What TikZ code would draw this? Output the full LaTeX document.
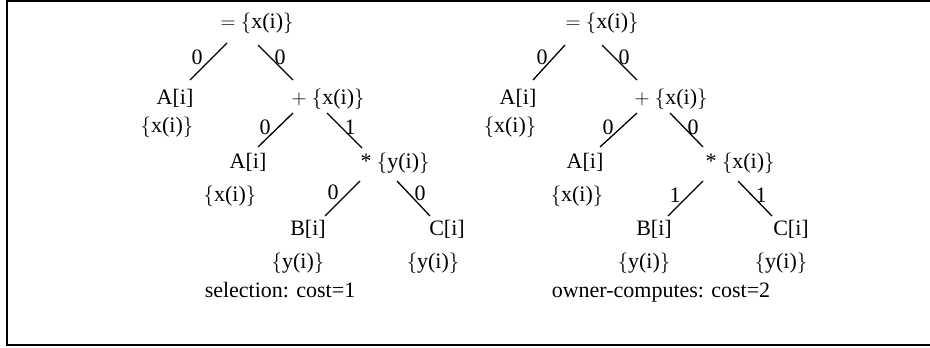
\documentclass[tikz,border=0pt]{standalone}
\usepackage{fontspec}
\setmainfont{Liberation Serif}
\begin{document}
\begin{tikzpicture}[x=1pt,y=-1pt,
  every node/.style={font=\fontsize{22}{26}\selectfont, inner sep=0pt},
  tx/.style={anchor=base},
  lab/.style={anchor=center},
  edge/.style={line width=1.3pt},
  frame/.style={line width=2pt}]
\useasboundingbox (0,0) rectangle (930,348);
\draw[frame] (931,1) -- (7,1) -- (7,345) -- (931,345);
% ---------- left tree ----------
\node[tx] (rL)  at (257,28)  {$=$ $\{$x(i)$\}$};
\node[tx] (aL1) at (175,104) {A[i]};
\node[tx] (pL)  at (328,104) {$+$ $\{$x(i)$\}$};
\node[tx] (xL1) at (167,132) {$\{$x(i)$\}$};
\node[tx] (aL2) at (248,168) {A[i]};
\node[tx] (sL)  at (395,168) {* $\{$y(i)$\}$};
\node[tx] (xL2) at (230,201) {$\{$x(i)$\}$};
\node[tx] (bL)  at (308,235) {B[i]};
\node[tx] (cL)  at (447,235) {C[i]};
\node[tx] (yL1) at (298,268) {$\{$y(i)$\}$};
\node[tx] (yL2) at (433,268) {$\{$y(i)$\}$};
\node[tx] (capL) at (280,297) {selection: cost=1};
\draw[edge] ([shift={(-30,15)}]rL.base) -- ([shift={(15,-24)}]aL1.base);
\draw[edge] ([shift={(1,17)}]rL.base) -- ([shift={(-35,-24)}]pL.base);
\draw[edge] ([shift={(-35,9)}]pL.base) -- ([shift={(10,-21)}]aL2.base);
\draw[edge] ([shift={(-1,9)}]pL.base) -- ([shift={(-33,-20)}]sL.base);
\draw[edge] ([shift={(-35,13)}]sL.base) -- ([shift={(17,-19)}]bL.base);
\draw[edge] ([shift={(2,13)}]sL.base) -- ([shift={(-17,-19)}]cL.base);
\node[lab] (l1) at (197,57) {0};
\node[lab] (l2) at (280,57) {0};
\node[lab] (l3) at (265,127) {0};
\node[lab] (l4) at (350,127) {1};
\node[lab] (l5) at (333,192) {0};
\node[lab] (l6) at (420,193) {0};
% ---------- right tree ----------
\node[tx] (rR)  at (602,28)  {$=$ $\{$x(i)$\}$};
\node[tx] (aR1) at (518,104) {A[i]};
\node[tx] (pR)  at (671,104) {$+$ $\{$x(i)$\}$};
\node[tx] (xR1) at (510,132) {$\{$x(i)$\}$};
\node[tx] (aR2) at (585,168) {A[i]};
\node[tx] (sR)  at (740,168) {* $\{$x(i)$\}$};
\node[tx] (xR2) at (577,201) {$\{$x(i)$\}$};
\node[tx] (bR)  at (654,235) {B[i]};
\node[tx] (cR)  at (791,235) {C[i]};
\node[tx] (yR1) at (644,268) {$\{$y(i)$\}$};
\node[tx] (yR2) at (781,268) {$\{$y(i)$\}$};
\node[tx] (capR) at (661,297) {owner-computes: cost=2};
\draw[edge] ([shift={(-37,17)}]rR.base) -- ([shift={(15,-24)}]aR1.base);
\draw[edge] ([shift={(0,17)}]rR.base) -- ([shift={(-34,-24)}]pR.base);
\draw[edge] ([shift={(-34,9)}]pR.base) -- ([shift={(15,-21)}]aR2.base);
\draw[edge] ([shift={(-1,9)}]pR.base) -- ([shift={(-37,-21)}]sR.base);
\draw[edge] ([shift={(-37,13)}]sR.base) -- ([shift={(14,-19)}]bR.base);
\draw[edge] ([shift={(-2,13)}]sR.base) -- ([shift={(-19,-19)}]cR.base);
\node[lab] (r1) at (542,57) {0};
\node[lab] (r2) at (624,57) {0};
\node[lab] (r3) at (608,127) {0};
\node[lab] (r4) at (693,127) {0};
\node[lab] (r5) at (675,195) {1};
\node[lab] (r6) at (761,195) {1};
\end{tikzpicture}
\end{document}
